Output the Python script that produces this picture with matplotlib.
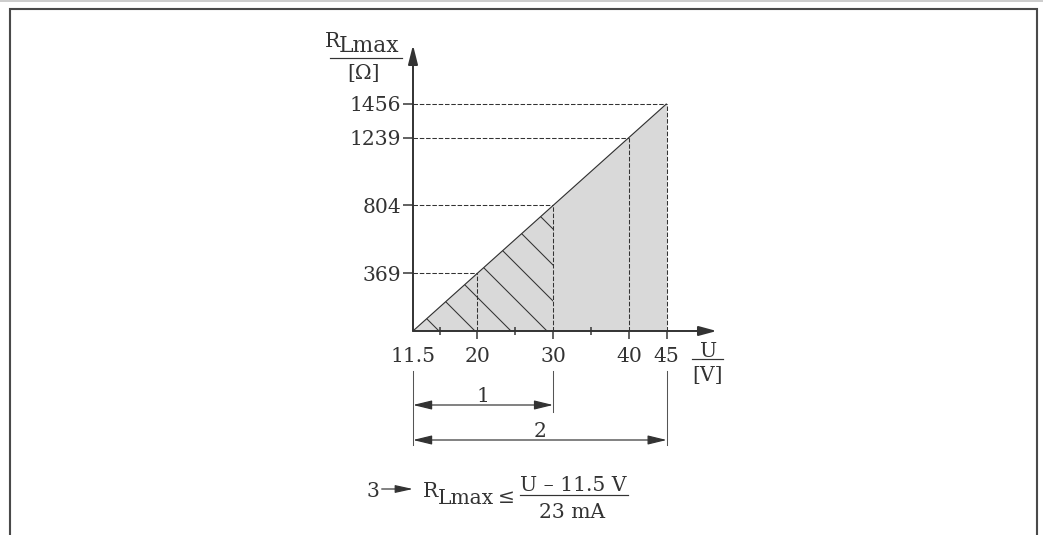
import matplotlib.pyplot as plt
import matplotlib.transforms as mtransforms
from matplotlib.lines import Line2D
from matplotlib.patches import FancyArrowPatch

# supply voltage U [V] against maximum load resistance R_Lmax [Ohm]
u_start = 11.5          # U where R_Lmax is 0
u_marks = [20, 30, 40, 45]
r_marks = [369, 804, 1239, 1456]
u_ticks = [11.5, 20, 30, 40, 45]
u_minor = [15, 25, 35]
u_range1 = 30           # end of range 1 (hatched)
u_range2 = 45           # end of range 2

W, H, DPI = 1043, 535, 108
INK = '#333333'
GREY = '#d9d9d9'
FS = 13.5

plt.rcParams['font.family'] = 'DejaVu Serif'
plt.rcParams['hatch.color'] = INK
plt.rcParams['hatch.linewidth'] = 0.7
plt.rcParams['lines.scale_dashes'] = False


def px(x, y):
    """pixel position measured from the top left -> figure fraction"""
    return x / W, 1 - y / H


def fy(y):
    return 1 - y / H


fig = plt.figure(figsize=(W / DPI, H / DPI), dpi=DPI)

# axes placed so that the origin (11.5 V, 0 Ohm) sits where the reference has it
x0, y0 = px(413, 331)
x1, y1 = px(716.7, 45)
ax = fig.add_axes([x0, y0, x1 - x0, y1 - y0])
ax.set_xlim(u_start, u_start + 303.7 / 7.573)
ax.set_ylim(0, 286 / 0.15611)
ax.patch.set_visible(False)
for s in ax.spines.values():
    s.set_visible(False)

# shaded area under the load line, hatched part is range 1
u_line = [u_start, u_range2]
r_line = [0, r_marks[-1]]
ax.fill_between(u_line, 0, r_line, color=GREY, lw=0)
ax.fill_between([u_start, u_range1], 0, [0, r_marks[1]], facecolor='none',
                edgecolor=INK, hatch='\\', lw=0)
ax.plot(u_line, r_line, color=INK, lw=0.8, solid_capstyle='butt')

# dashed guides
dash = (0, (3.0, 1.2))
ax.hlines(r_marks, u_start, u_marks, colors=INK, lw=0.7, linestyles=[dash])
ax.vlines(u_marks, 0, r_marks, colors=INK, lw=0.7, linestyles=[dash])

# ticks
ax.set_yticks(r_marks)
ax.set_xticks(u_ticks)
ax.set_xticklabels([f'{u:g}' for u in u_ticks])
ax.set_xticks(u_minor, minor=True)
ax.tick_params(axis='y', direction='out', length=10 / 1.5, width=1, color=INK,
               labelcolor=INK, labelsize=FS, pad=1)
ax.tick_params(axis='x', which='major', direction='out', length=8 / 1.5, width=1,
               color=INK, labelcolor=INK, labelsize=FS, pad=5.6)
ax.tick_params(axis='x', which='minor', direction='inout', length=7 / 1.5, width=1,
               color=INK)
ax.xaxis.get_major_ticks()[0].tick1line.set_visible(False)

# axis lines with arrow heads
ax.annotate('', xy=(1, 0), xytext=(0, 0), xycoords='axes fraction',
            arrowprops=dict(arrowstyle='-|>,head_length=10,head_width=2.7',
                            color=INK, lw=1.3, shrinkA=0, shrinkB=0,
                            mutation_scale=1), annotation_clip=False)
ax.annotate('', xy=(0, 1), xytext=(0, 0), xycoords='axes fraction',
            arrowprops=dict(arrowstyle='-|>,head_length=10.7,head_width=2.7',
                            color=INK, lw=1.3, shrinkA=0, shrinkB=0,
                            mutation_scale=1), annotation_clip=False)

# axis titles as fractions
fig.text(*px(325, 46.7), 'R', size=13.5, color=INK, ha='left', va='baseline')
fig.text(*px(338.5, 52.3), 'Lmax', size=14.5, color=INK, ha='left', va='baseline')
fig.add_artist(Line2D([330 / W, 401.7 / W], [fy(58), fy(58)], color=INK, lw=0.8))
fig.text(*px(363.6, 79), '[Ω]', size=13.5, color=INK, ha='center', va='baseline')

fig.text(*px(709, 356.7), 'U', size=FS, color=INK, ha='center', va='baseline')
fig.add_artist(Line2D([691.7 / W, 722.7 / W], [fy(359.3), fy(359.3)], color=INK, lw=0.8))
fig.text(*px(707.7, 381), '[V]', size=FS, color=INK, ha='center', va='baseline')

# dimension lines for the two ranges
dim = mtransforms.blended_transform_factory(ax.transData, fig.transFigure)
for u, bottom in [(u_start, 445), (u_range1, 411.7), (u_range2, 445)]:
    ax.add_line(Line2D([u, u], [fy(370.7), fy(bottom)], transform=dim,
                       color='#555555', lw=0.7, clip_on=False))
for ua, ub, ypx, lab in [(u_start, u_range1, 405, '1'), (u_start, u_range2, 440, '2')]:
    ax.annotate('', xy=(ub, fy(ypx)), xytext=(ua, fy(ypx)), xycoords=dim, textcoords=dim,
                arrowprops=dict(arrowstyle='<|-|>,head_length=10.7,head_width=2.6',
                                color=INK, lw=0.8, shrinkA=0, shrinkB=0,
                                mutation_scale=1), annotation_clip=False)
    ax.text((ua + ub) / 2, fy(ypx - 3.3), lab, transform=dim, size=FS, color=INK,
            ha='center', va='baseline')

# formula
fig.text(*px(373, 496.7), '3', size=FS, color=INK, ha='center', va='baseline')
fig.add_artist(FancyArrowPatch(px(381.7, 489), px(413, 489), transform=fig.transFigure,
                               arrowstyle='-|>,head_length=10,head_width=2.2',
                               color=INK, lw=0.8, shrinkA=0, shrinkB=0, mutation_scale=1))
fig.text(*px(422.7, 496.7), 'R', size=FS, color=INK, ha='left', va='baseline')
fig.text(*px(438.3, 504.3), 'Lmax', size=FS, color=INK, ha='left', va='baseline')
fig.text(*px(498, 503), '≤', size=FS, color=INK, ha='left', va='baseline')
fig.text(*px(573.5, 491), 'U – 11.5 V', size=FS, color=INK, ha='center', va='baseline')
fig.add_artist(Line2D([520 / W, 628 / W], [fy(495), fy(495)], color=INK, lw=0.8))
fig.text(*px(571.8, 517.7), '23 mA', size=FS, color=INK, ha='center', va='baseline')

# frame
fig.add_artist(Line2D([0, 1], [fy(0.7), fy(0.7)], color='#bdbdbd', lw=1))
fig.add_artist(Line2D([10 / W, 10 / W, 1037 / W, 1037 / W], [0, fy(9), fy(9), 0],
                      color='#4a4a4a', lw=1.4, solid_joinstyle='miter'))

fig.savefig('out.png', dpi=DPI)
